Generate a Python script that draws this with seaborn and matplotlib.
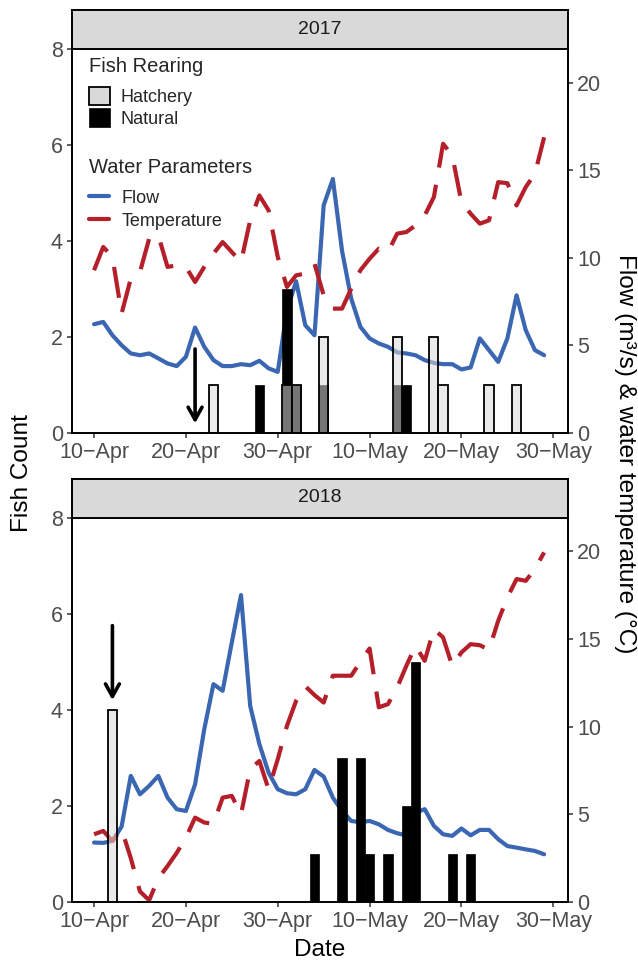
import numpy as np
import pandas as pd
import matplotlib
matplotlib.use("Agg")
import matplotlib.pyplot as plt
import seaborn as sns
from matplotlib.patches import Patch
from matplotlib.lines import Line2D

# ------------------------------------------------------------------ data
season_start = "2017-04-10"
season_end = "2017-05-29"

flow_2017 = [6.21, 6.34, 5.58, 5.01, 4.54, 4.44, 4.54, 4.26, 3.97, 3.82,
             4.35, 6.02, 4.92, 4.16, 3.82, 3.82, 3.93, 3.87, 4.12, 3.69,
             3.49, 7.0, 8.66, 6.15, 5.58, 13.0, 14.5, 10.4, 7.67, 6.06,
             5.4, 5.11, 4.92, 4.6, 4.54, 4.44, 4.16, 4.0, 3.93, 3.93,
             3.63, 3.74, 5.4, 4.73, 4.06, 5.4, 7.86, 5.87, 4.73, 4.44]
temp_2017 = [9.29, 10.62, 10.05, 6.82, 8.81, 9.19, 11.09, 11.28, 9.48, 9.57,
             9.48, 8.62, 9.48, 10.24, 10.9, 10.33, 9.76, 12.14, 13.56, 12.71,
             10.05, 8.34, 9.0, 9.1, 9.67, 7.86, 7.1, 7.1, 8.24, 9.29,
             9.95, 10.52, 10.33, 11.38, 11.47, 11.85, 12.42, 13.47, 16.51, 15.84,
             13.18, 12.52, 11.95, 12.14, 14.32, 14.26, 12.99, 14.04, 14.8, 16.88]
flow_2018 = [3.39, 3.37, 3.48, 4.3, 7.19, 6.14, 6.62, 7.19, 5.95, 5.29,
             5.19, 6.71, 9.85, 12.42, 12.04, 14.8, 17.5, 11.18, 9.0, 7.38,
             6.43, 6.2, 6.14, 6.43, 7.53, 7.15, 5.95, 5.19, 4.62, 4.55,
             4.62, 4.43, 4.11, 3.92, 3.8, 5.1, 5.29, 4.34, 3.86, 3.77,
             4.19, 3.8, 4.11, 4.11, 3.58, 3.19, 3.1, 3.0, 2.91, 2.72]
temp_2018 = [3.86, 4.05, 3.48, 4.15, 2.5, 0.6, 0.1, 1.35, 2.05, 2.8,
             3.67, 4.81, 4.53, 4.46, 5.95, 6.05, 5.0, 7.57, 8.04, 6.43,
             8.14, 10.04, 11.47, 12.3, 11.8, 11.37, 12.9, 12.9, 12.9, 13.7,
             14.45, 11.1, 11.28, 12.23, 13.46, 14.6, 13.75, 15.56, 15.08, 13.46,
             14.23, 14.7, 14.64, 14.38, 16.03, 17.36, 18.41, 18.31, 18.98, 19.93]

natural_2017_dates = ["04-28", "05-01", "05-02", "05-05", "05-13", "05-14"]
natural_2017_counts = [1, 3, 1, 1, 1, 1]
hatchery_2017_dates = ["04-23", "05-01", "05-02", "05-05", "05-13", "05-17",
                       "05-18", "05-23", "05-26"]
hatchery_2017_counts = [1, 1, 1, 2, 2, 2, 1, 1, 1]
natural_2018_dates = ["05-04", "05-07", "05-09", "05-10", "05-12", "05-14",
                      "05-15", "05-19", "05-21"]
natural_2018_counts = [1, 3, 3, 1, 1, 2, 5, 1, 1]
hatchery_2018_dates = ["04-12"]
hatchery_2018_counts = [4]

# release arrows: date, arrow start (fish count), arrow tip (fish count)
release_2017 = ("04-21", 1.75, 0.2)
release_2018 = ("04-12", 5.75, 4.2)

tick_dates = ["04-10", "04-20", "04-30", "05-10", "05-20", "05-30"]
tick_labels = ["10\u2212Apr", "20\u2212Apr", "30\u2212Apr",
               "10\u2212May", "20\u2212May", "30\u2212May"]
count_ticks = [0, 2, 4, 6, 8]
water_ticks = [0, 5, 10, 15, 20]
years = ["2017", "2018"]

# ------------------------------------------------------------------ helpers
t0 = pd.Timestamp(season_start)


def to_day(md):
    return (pd.Timestamp("2017-" + md) - t0).days


days = np.array((pd.date_range(season_start, season_end) - t0).days)

BLUE = "#3B67B2"
RED = "#B51F29"
HATCH = "#D9D9D9"
SEC = 2.74   # secondary axis scale (water units per fish)

sns.set_theme(style="ticks")
plt.rcParams["font.family"] = ["Liberation Sans", "DejaVu Sans"]

fig = plt.figure(figsize=(6.38, 9.61), dpi=100)
L, W = 72 / 638, 496 / 638
layout = {
    "2017": dict(ax=[L, 1 - 433 / 961, W, 384 / 961],
                 strip=[L, 1 - 48.5 / 961, W, 38.5 / 961]),
    "2018": dict(ax=[L, 1 - 902 / 961, W, 384.5 / 961],
                 strip=[L, 1 - 517.5 / 961, W, 39 / 961]),
}
series = {
    "2017": (flow_2017, temp_2017, natural_2017_dates, natural_2017_counts,
             hatchery_2017_dates, hatchery_2017_counts, release_2017),
    "2018": (flow_2018, temp_2018, natural_2018_dates, natural_2018_counts,
             hatchery_2018_dates, hatchery_2018_counts, release_2018),
}

axes = {}
for yr in years:
    flow, temp, nd, nc, hd, hc, rel = series[yr]
    ax = fig.add_axes(layout[yr]["ax"])
    ax2 = ax.twinx()

    sns.lineplot(x=days, y=flow, ax=ax2, color=BLUE, linewidth=3.0)
    sns.lineplot(x=days, y=temp, ax=ax2, color=RED, linewidth=3.0,
                 linestyle=(0, (7.5, 4.2)))

    sns.histplot(x=[to_day(d) for d in nd], weights=nc, discrete=True,
                 color="black", alpha=1, edgecolor="black", linewidth=0.5,
                 ax=ax)
    sns.histplot(x=[to_day(d) for d in hd], weights=hc, discrete=True,
                 color=HATCH, alpha=0.55, edgecolor="black", linewidth=1.3,
                 ax=ax)
    for p in list(ax.patches):
        if p.get_height() == 0:
            p.remove()

    ax.set_zorder(ax2.get_zorder() + 1)
    ax.patch.set_visible(False)

    ax.set_xlim(-2.4, 51.6)
    ax.set_ylim(0, 8)
    ax2.set_ylim(0, 8 * SEC)
    ax.set_xticks([to_day(d) for d in tick_dates])
    ax.set_xticklabels(tick_labels)
    ax.set_yticks(count_ticks)
    ax2.set_yticks(water_ticks)
    for a in (ax, ax2):
        a.set_xlabel("")
        a.set_ylabel("")
        a.grid(False)
    for s in ("top", "right"):
        ax.spines[s].set_visible(False)
    for s in ("top", "left", "bottom"):
        ax2.spines[s].set_visible(False)
    for a in (ax, ax2):
        for s in a.spines.values():
            s.set_linewidth(1.4)
            s.set_color("black")
        a.tick_params(length=3.6, width=1.1, color="#333333", labelsize=15.5,
                      labelcolor="#4D4D4D", pad=3)

    # release arrow
    rd, y_from, y_to = rel
    ax.annotate("", xy=(to_day(rd), y_to), xytext=(to_day(rd), y_from),
                arrowprops=dict(arrowstyle="->,head_length=0.45,head_width=0.25",
                                lw=2.6, color="black", shrinkA=0, shrinkB=0,
                                mutation_scale=20))

    # facet strip
    sax = fig.add_axes(layout[yr]["strip"])
    sax.set_facecolor("#D9D9D9")
    sax.set_xticks([])
    sax.set_yticks([])
    for s in sax.spines.values():
        s.set_visible(True)
        s.set_linewidth(1.4)
        s.set_color("black")
    sax.text(0.5, 0.5, yr, ha="center", va="center", fontsize=14,
             color="#1A1A1A", transform=sax.transAxes)
    axes[yr] = ax

# ------------------------------------------------------------------ legends
top = axes["2017"]
rear_handles = [Patch(facecolor=HATCH, edgecolor="black", linewidth=1.3),
                Patch(facecolor="black", edgecolor="black", linewidth=0.5)]
leg1 = top.legend(rear_handles, ["Hatchery", "Natural"], title="Fish Rearing",
                  loc="upper left", bbox_to_anchor=(89 / 638, 1 - 57 / 961),
                  bbox_transform=fig.transFigure, frameon=False,
                  fontsize=13, title_fontsize=14.5, alignment="left",
                  borderpad=0, borderaxespad=0, handlelength=1.17,
                  handleheight=1.17, handletextpad=0.55, labelspacing=0.12)
leg1._legend_box.sep = 8.0
top.add_artist(leg1)

water_handles = [Line2D([], [], color=BLUE, linewidth=3.0),
                 Line2D([], [], color=RED, linewidth=3.0)]
leg2 = top.legend(water_handles, ["Flow", "Temperature"], title="Water Parameters",
                  loc="upper left", bbox_to_anchor=(89 / 638, 1 - 158 / 961),
                  bbox_transform=fig.transFigure, frameon=False,
                  fontsize=13, title_fontsize=14.5, alignment="left",
                  borderpad=0, borderaxespad=0, handlelength=1.1,
                  handleheight=1.17, handletextpad=0.7, labelspacing=0.22)
leg2._legend_box.sep = 8.0

# ------------------------------------------------------------------ titles
fig.text(22 / 638, 1 - 473 / 961, "Fish Count", rotation=90, ha="center",
         va="center", fontsize=17.6, color="black")
fig.text(625 / 638, 1 - 453.5 / 961, "Flow (m\u00b3/s) & water temperature (\u00b0C)",
         rotation=270, ha="center", va="center", fontsize=17.6, color="black")
fig.text(320 / 638, 1 - 950 / 961, "Date", ha="center", va="center",
         fontsize=17.6, color="black")

fig.savefig("out.png", dpi=100)
